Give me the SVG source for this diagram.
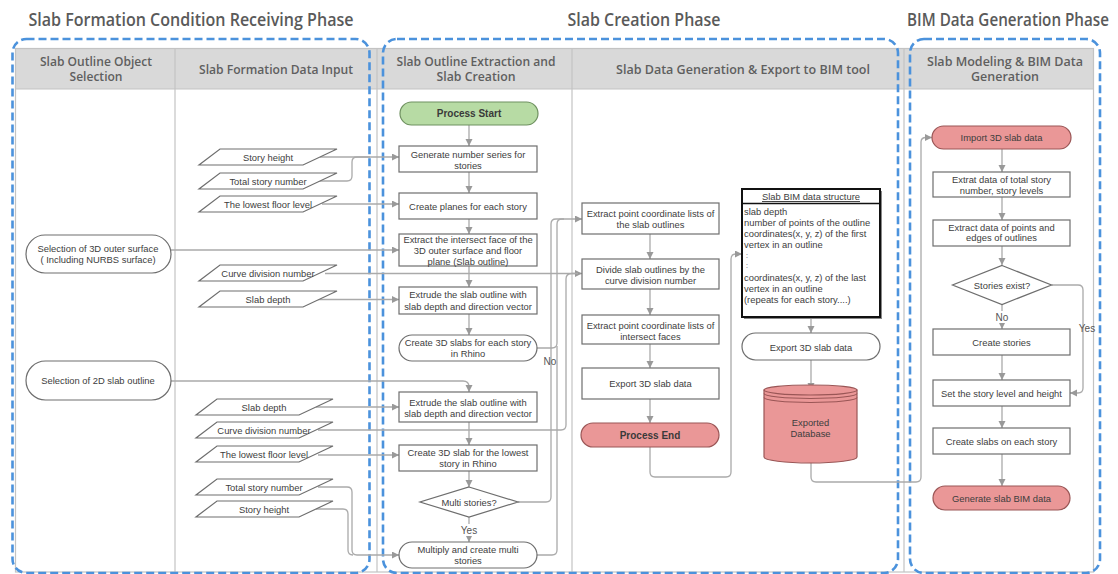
<svg xmlns="http://www.w3.org/2000/svg" width="1118" height="574" viewBox="0 0 1118 574">
<defs>
<style>
.ph{font-family:"Open Sans","Noto Sans",sans-serif;font-size:17.5px;font-weight:600;fill:#5a5a5a;text-anchor:middle}
.ph2{font-family:"Open Sans","Noto Sans",sans-serif;font-size:15.2px;font-weight:600;fill:#5a5a5a;text-anchor:middle}
.hd{font-family:"Open Sans","Noto Sans",sans-serif;font-size:12.5px;font-weight:600;fill:#5f5f5f;text-anchor:middle}
.t{font-family:"Liberation Sans",Arial,sans-serif;font-size:9.4px;fill:#3d3d3d;text-anchor:middle}
.tl{font-family:"Liberation Sans",Arial,sans-serif;font-size:9.4px;fill:#3d3d3d}
.dots{font-family:"Liberation Sans",Arial,sans-serif;font-size:7px;fill:#3d3d3d}
.tb{font-family:"Liberation Sans",Arial,sans-serif;font-size:10px;font-weight:bold;fill:#3a3a3a;text-anchor:middle}
.lb{font-family:"Liberation Sans",Arial,sans-serif;font-size:10px;fill:#555;text-anchor:middle}
.box{fill:#fff;stroke:#6e6e6e;stroke-width:1.2}
.green{fill:#b7dba4;stroke:#6f9160;stroke-width:1.2}
.pink{fill:#ea9797;stroke:#9a5656;stroke-width:1.2}
.grid{fill:none;stroke:#c3c3c3;stroke-width:1.2}
.phase{fill:none;stroke:#4b92dc;stroke-width:2.6;stroke-dasharray:8 4}
.c{fill:none;stroke:#aaaaaa;stroke-width:1.3}
.ca{fill:none;stroke:#aaaaaa;stroke-width:1.3;marker-end:url(#ah)}
</style>
<marker id="ah" markerUnits="userSpaceOnUse" markerWidth="8" markerHeight="8" refX="7" refY="3.5" orient="auto">
<path d="M0,0 L7,3.5 L0,7 z" fill="#999"/>
</marker>
</defs>
<rect width="1118" height="574" fill="#fff"/>

<!-- phase titles -->
<text class="ph" x="191" y="26" textLength="325" lengthAdjust="spacingAndGlyphs">Slab Formation Condition Receiving Phase</text>
<text class="ph" x="644" y="26" textLength="153" lengthAdjust="spacingAndGlyphs">Slab Creation Phase</text>
<text class="ph2" x="0" y="0" transform="translate(1008,26) scale(1,1.15)">BIM Data Generation Phase</text>

<!-- swimlane table -->
<g id="table">
<rect x="15.5" y="48.5" width="1078" height="40.5" fill="#d9d9d9"/>
<rect class="grid" x="15.5" y="48.5" width="1078" height="523.5"/>
<line class="grid" x1="15.5" y1="89" x2="1093.5" y2="89"/>
<line class="grid" x1="175" y1="48.5" x2="175" y2="572"/>
<line class="grid" x1="377" y1="48.5" x2="377" y2="572"/>
<line class="grid" x1="572" y1="48.5" x2="572" y2="572"/>
<line class="grid" x1="904" y1="48.5" x2="904" y2="572"/>
<text class="hd" x="96" y="66" textLength="112" lengthAdjust="spacingAndGlyphs">Slab Outline Object</text>
<text class="hd" x="96" y="81" textLength="53" lengthAdjust="spacingAndGlyphs">Selection</text>
<text class="hd" x="276" y="74" textLength="154" lengthAdjust="spacingAndGlyphs">Slab Formation Data Input</text>
<text class="hd" x="476" y="66" textLength="159" lengthAdjust="spacingAndGlyphs">Slab Outline Extraction and</text>
<text class="hd" x="476" y="81" textLength="79" lengthAdjust="spacingAndGlyphs">Slab Creation</text>
<text class="hd" x="743" y="74" textLength="254" lengthAdjust="spacingAndGlyphs">Slab Data Generation &amp; Export to BIM tool</text>
<text class="hd" x="1005" y="66" textLength="156" lengthAdjust="spacingAndGlyphs">Slab Modeling &amp; BIM Data</text>
<text class="hd" x="1005" y="81" textLength="68" lengthAdjust="spacingAndGlyphs">Generation</text>
</g>

<!-- phase boundaries -->
<g id="phases">
<rect class="phase" x="12.5" y="39" width="357" height="534" rx="14"/>
<rect class="phase" x="383" y="39" width="515" height="534" rx="14"/>
<rect class="phase" x="910" y="39" width="190" height="534" rx="14"/>
</g>

<!-- connectors -->
<g id="connectors">
<path class="ca" d="M469 125 V146"/>
<path class="ca" d="M469 172 V193"/>
<path class="ca" d="M469 219 V234"/>
<path class="ca" d="M469 266 V287"/>
<path class="ca" d="M469 314 V335"/>
<path class="ca" d="M171 381 H463 Q469 381 469 387 V392"/>
<path class="ca" d="M469 422 V445"/>
<path class="ca" d="M469 471 V487"/>
<path class="ca" d="M469 517 V542"/>
<path class="ca" d="M320 157 H399"/>
<path class="c" d="M318 181 H347 Q352 181 352 176 V162 Q352 157 357 157 H370"/>
<path class="ca" d="M322 204 H399"/>
<path class="ca" d="M171 250 H399"/>
<path class="ca" d="M325 273.5 H582"/>
<path class="ca" d="M317 299.5 H399"/>
<path class="ca" d="M316 407 H399"/>
<path class="c" d="M318 430 H561 Q566 430 566 425 V279 Q566 273.5 572 273.5 H578"/>
<path class="ca" d="M318 455 H399"/>
<path class="ca" d="M318 487 H347 Q352 487 352 492 V550 Q352 555 357 555 H399"/>
<path class="c" d="M316 509 H343 Q348 509 348 514 V550 Q348 555 353 555"/>
<path class="ca" d="M537 348 H552 Q557 348 557 343 V224 Q557 219 562 219 H582"/>
<path class="c" d="M518 502 H546 Q551 502 551 497 V224 Q551 219 556 219 H564"/>
<path class="c" d="M537 555 H552 Q557 555 557 550 V346"/>
<path class="ca" d="M650 234 V259"/>
<path class="ca" d="M650 289 V315"/>
<path class="ca" d="M650 344 V368"/>
<path class="ca" d="M650 399 V423"/>
<path class="ca" d="M650 447 V472 Q650 477 655 477 H726 Q731 477 731 472 V259 Q731 254 736 254 H742"/>
<path class="ca" d="M811 318 V333"/>
<path class="ca" d="M811 360 V390"/>
<path class="ca" d="M811 463 V477 Q811 482 816 482 H916 Q921 482 921 477 V142 Q921 137.5 926 137.5 H932"/>
<path class="ca" d="M1002 149 V172"/>
<path class="ca" d="M1002 197 V220"/>
<path class="ca" d="M1002 246 V265"/>
<path class="ca" d="M1002 304.5 V329"/>
<path class="ca" d="M1002 355 V380"/>
<path class="ca" d="M1002 406 V428"/>
<path class="ca" d="M1002 454 V486"/>
<path class="ca" d="M1051.5 285 H1078 Q1083 285 1083 290 V388 Q1083 393 1078 393 H1070"/>
<rect x="457" y="524" width="24" height="12" fill="#fff"/>
<text class="lb" x="469" y="533.5">Yes</text>
<text class="lb" x="550" y="364.5">No</text>
<rect x="992" y="311" width="20" height="12" fill="#fff"/>
<text class="lb" x="1002" y="320.5">No</text>
<text class="lb" x="1087" y="331.5">Yes</text>
</g>

<!-- column 1 -->
<g id="n-sel3d">
<rect class="box" x="26" y="235" width="145" height="38" rx="19"/>
<text class="t" x="98" y="251.5">Selection of 3D outer surface</text>
<text class="t" x="98" y="262.5">( Including NURBS surface)</text>
</g>
<g id="n-sel2d">
<rect class="box" x="26" y="361" width="145" height="39" rx="19.5"/>
<text class="t" x="98" y="384">Selection of 2D slab outline</text>
</g>

<!-- column 2 -->
<g id="p-storyheight1"><polygon class="box" points="220,149 337,149 303,165 199,165"/><text class="t" x="268" y="160.5">Story height</text></g>
<g id="p-totalstory1"><polygon class="box" points="220,173 337,173 303,189 199,189"/><text class="t" x="268" y="184.5">Total story number</text></g>
<g id="p-lowest1"><polygon class="box" points="220,196 337,196 303,212 199,212"/><text class="t" x="268" y="207.5">The lowest floor level</text></g>
<g id="p-curvediv1"><polygon class="box" points="220,265 337,265 303,281 199,281"/><text class="t" x="268" y="276.5">Curve division number</text></g>
<g id="p-slabdepth1"><polygon class="box" points="220,291 337,291 303,307 199,307"/><text class="t" x="268" y="302.5">Slab depth</text></g>
<g id="p-slabdepth2"><polygon class="box" points="217,399 333,399 299,415 196,415"/><text class="t" x="264" y="410.5">Slab depth</text></g>
<g id="p-curvediv2"><polygon class="box" points="217,422 333,422 299,438 196,438"/><text class="t" x="264" y="433.5">Curve division number</text></g>
<g id="p-lowest2"><polygon class="box" points="217,446 333,446 299,462 196,462"/><text class="t" x="264" y="457.5">The lowest floor level</text></g>
<g id="p-totalstory2"><polygon class="box" points="217,479 333,479 299,495 196,495"/><text class="t" x="264" y="490.5">Total story number</text></g>
<g id="p-storyheight2"><polygon class="box" points="217,501 333,501 299,517 196,517"/><text class="t" x="264" y="512.5">Story height</text></g>

<!-- column 3 -->
<g id="n-start"><rect class="green" x="400" y="102" width="138" height="23" rx="11.5"/><text class="tb" x="469" y="117">Process Start</text></g>
<g id="n-gen"><rect class="box" x="399" y="146" width="138" height="26"/><text class="t" x="468" y="157.5">Generate number series for</text><text class="t" x="468" y="168.5">stories</text></g>
<g id="n-planes"><rect class="box" x="399" y="193" width="138" height="26"/><text class="t" x="468" y="209.5">Create planes for each story</text></g>
<g id="n-intersect"><rect class="box" x="399" y="234" width="138" height="32"/><text class="t" x="468" y="243">Extract the intersect face of the</text><text class="t" x="468" y="254">3D outer surface and floor</text><text class="t" x="468" y="265">plane (Slab outline)</text></g>
<g id="n-extrude1"><rect class="box" x="399" y="287" width="138" height="27"/><text class="t" x="468" y="298">Extrude the slab outline with</text><text class="t" x="468" y="309.5">slab depth and direction vector</text></g>
<g id="n-create3d"><rect class="box" x="399" y="335" width="138" height="26" rx="13"/><text class="t" x="468" y="345.5">Create 3D slabs for each story</text><text class="t" x="468" y="356.5">in Rhino</text></g>
<g id="n-extrude2"><rect class="box" x="399" y="392" width="138" height="30"/><text class="t" x="468" y="405.5">Extrude the slab outline with</text><text class="t" x="468" y="416.5">slab depth and direction vector</text></g>
<g id="n-lowest"><rect class="box" x="399" y="445" width="138" height="26"/><text class="t" x="468" y="455.5">Create 3D slab for the lowest</text><text class="t" x="468" y="467">story in Rhino</text></g>
<g id="n-multi"><polygon class="box" points="469,487 518,502 469,517 420,502"/><text class="t" x="469" y="505.5">Multi stories?</text></g>
<g id="n-multiply"><rect class="box" x="399" y="542" width="138" height="26" rx="13"/><text class="t" x="468" y="553">Multiply and create multi</text><text class="t" x="468" y="564">stories</text></g>

<!-- column 4 -->
<g id="n-extpts"><rect class="box" x="582" y="203" width="137" height="31"/><text class="t" x="650.5" y="217">Extract point coordinate lists of</text><text class="t" x="650.5" y="228">the slab outlines</text></g>
<g id="n-divide"><rect class="box" x="582" y="259" width="137" height="30"/><text class="t" x="650.5" y="272.5">Divide slab outlines by the</text><text class="t" x="650.5" y="283.5">curve division number</text></g>
<g id="n-extint"><rect class="box" x="582" y="315" width="137" height="29"/><text class="t" x="650.5" y="328.5">Extract point coordinate lists of</text><text class="t" x="650.5" y="339.5">intersect faces</text></g>
<g id="n-export1"><rect class="box" x="582" y="368" width="137" height="31"/><text class="t" x="650.5" y="387">Export 3D slab data</text></g>
<g id="n-end"><rect class="pink" x="581" y="423" width="138" height="24" rx="12"/><text class="tb" x="650" y="438.5">Process End</text></g>
<g id="n-bimstruct">
<rect x="744" y="191" width="138" height="128" fill="#888"/>
<rect x="742" y="189" width="138" height="128" fill="#fff" stroke="#111" stroke-width="2"/>
<line x1="742" y1="203.5" x2="880" y2="203.5" stroke="#111" stroke-width="1.5"/>
<text class="t" x="811" y="200" text-decoration="underline">Slab BIM data structure</text>
<line x1="772" y1="201.5" x2="850" y2="201.5" stroke="#3d3d3d" stroke-width="0.7"/>
<text class="tl" x="744" y="214.5">slab depth</text>
<text class="tl" x="744" y="225.5">number of points of the outline</text>
<text class="tl" x="744" y="236.5">coordinates(x, y, z) of the first</text>
<text class="tl" x="744" y="247.5">vertex in an outline</text>
<text class="dots" x="746" y="258">:</text>
<text class="dots" x="746" y="268">:</text>
<text class="tl" x="744" y="281">coordinates(x, y, z) of the last</text>
<text class="tl" x="744" y="291.5">vertex in an outline</text>
<text class="tl" x="744" y="302.5">(repeats for each story....)</text>
</g>
<g id="n-export2"><rect class="box" x="742" y="333" width="138" height="27" rx="13.5"/><text class="t" x="811" y="350.5">Export 3D slab data</text></g>
<g id="n-db">
<path class="pink" d="M764 390 V457 A46.5 6 0 0 0 857 457 V390 Z"/>
<ellipse class="pink" cx="810.5" cy="390" rx="46.5" ry="5"/>
<path d="M764 393.5 A46.5 5 0 0 0 857 393.5 M764 397.5 A46.5 5 0 0 0 857 397.5" fill="none" stroke="#9a5656" stroke-width="1.1"/>
<text class="t" x="810.5" y="426">Exported</text>
<text class="t" x="810.5" y="437">Database</text>
</g>

<!-- column 5 -->
<g id="n-import"><rect class="pink" x="932" y="126" width="139" height="23" rx="11.5"/><text class="t" x="1001.5" y="141">Import 3D slab data</text></g>
<g id="n-extrat"><rect class="box" x="933" y="172" width="137" height="25"/><text class="t" x="1001.5" y="183">Extrat data of total story</text><text class="t" x="1001.5" y="194">number, story levels</text></g>
<g id="n-extdata"><rect class="box" x="933" y="220" width="137" height="26"/><text class="t" x="1001.5" y="230.5">Extract data of points and</text><text class="t" x="1001.5" y="241">edges of outlines</text></g>
<g id="n-exist"><polygon class="box" points="1002,265.5 1051.5,285 1002,304.5 952.5,285"/><text class="t" x="1002" y="288.5">Stories exist?</text></g>
<g id="n-createstories"><rect class="box" x="933" y="329" width="137" height="26"/><text class="t" x="1001.5" y="345.5">Create stories</text></g>
<g id="n-setstory"><rect class="box" x="933" y="380" width="137" height="26"/><text class="t" x="1001.5" y="396.5">Set the story level and height</text></g>
<g id="n-createslabs"><rect class="box" x="933" y="428" width="137" height="26"/><text class="t" x="1001.5" y="444.5">Create slabs on each story</text></g>
<g id="n-genbim"><rect class="pink" x="933" y="486" width="137" height="24" rx="12"/><text class="t" x="1001.5" y="501.5">Generate slab BIM data</text></g>
</svg>
